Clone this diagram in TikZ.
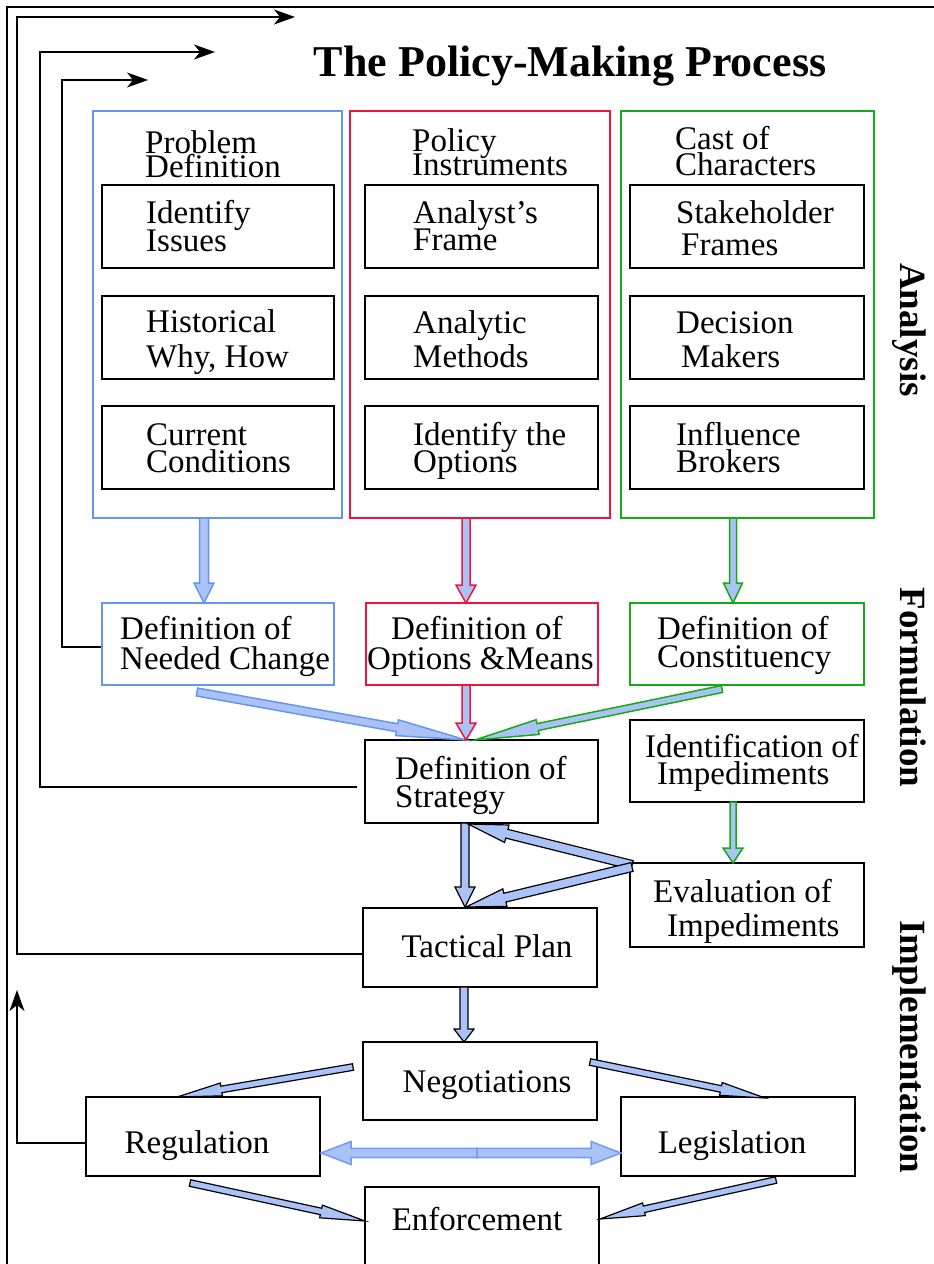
\documentclass[tikz,border=0pt]{standalone}
\usepackage{fontspec}
\setmainfont{Liberation Serif}
\usetikzlibrary{arrows.meta}
\definecolor{cblue}{RGB}{100,149,240}
\definecolor{cred}{RGB}{236,22,60}
\definecolor{cgreen}{RGB}{22,170,22}
\definecolor{afill}{RGB}{170,194,245}
\definecolor{dblue}{RGB}{110,156,246}
\lineskiplimit=-100pt
\newdimen\bAx \newdimen\bAy \newdimen\bBx \newdimen\bBy
\newcommand\blockarrow[7]{%
  \pgfextractx{\bAx}{\pgfpointanchor{#1}{center}}%
  \pgfextracty{\bAy}{\pgfpointanchor{#1}{center}}%
  \pgfextractx{\bBx}{\pgfpointanchor{#2}{center}}%
  \pgfextracty{\bBy}{\pgfpointanchor{#2}{center}}%
  \pgfmathsetmacro\bAng{atan2(\bBy-\bAy,\bBx-\bAx)}%
  \pgfmathsetmacro\bLen{veclen(\bBx-\bAx,\bBy-\bAy)}%
  \draw[draw=#3,fill=afill,line width=#7,line join=miter,
        shift={(\bAx,\bAy)},rotate=\bAng]
    (0pt,-#4) -- (\bLen pt-#6,-#4) -- (\bLen pt-#6,-#5) -- (\bLen pt,0pt)
    -- (\bLen pt-#6,#5) -- (\bLen pt-#6,#4) -- (0pt,#4) -- cycle;}
\begin{document}
\begin{tikzpicture}[x=1pt,y=-1pt,
  box/.style={draw=black,line width=1.6pt,inner sep=0pt},
  cont/.style={draw=#1,line width=1.6pt,inner sep=0pt},
  txt/.style={font=\fontsize{33}{#1}\selectfont,align=left,inner sep=0pt,anchor=base west},
  one/.style={font=\fontsize{33}{33}\selectfont,inner sep=0pt,anchor=base},
  side/.style={font=\fontsize{37}{37}\selectfont\bfseries,inner sep=0pt,anchor=base,rotate=-90},
  fb/.style={line width=1.5pt,-{Stealth[length=21pt,width=15pt,inset=6pt]}}]
\useasboundingbox (0,0) rectangle (934,1264);
\clip (0,0) rectangle (934,1264);

% frame
\coordinate (fr1) at (934,7);
\coordinate (fr2) at (7,7);
\coordinate (fr3) at (7,1270);
\draw[line width=1.5pt] (fr1) -- (fr2) -- (fr3);

% title and side labels
\node[anchor=base,inner sep=0pt,font=\fontsize{44}{44}\selectfont\bfseries] (title) at (570,76) {The Policy-Making Process};
\node[side] (lAn) at (900,330) {Analysis};
\node[side] (lFo) at (900,687.5) {Formulation};
\node[side] (lIm) at (900,1047) {Implementation};

% containers
\node[cont=cblue, minimum width=249, minimum height=407] (pdC) at (217.5,314.5) {};
\node[cont=cred, minimum width=260, minimum height=407] (piC) at (480,314.5) {};
\node[cont=cgreen, minimum width=253, minimum height=407] (ccC) at (747.5,314.5) {};
\node[txt=24] (pdH) at (145,177) {Problem\\Definition};
\node[txt=24] (piH) at (412,175) {Policy\\Instruments};
\node[txt=26] (ccH) at (675,175) {Cast of\\Characters};

% inner boxes, column 1
\node[box, minimum width=232, minimum height=83] (b11) at (218,226.5) {};
\node[box, minimum width=232, minimum height=83] (b12) at (218,337.5) {};
\node[box, minimum width=232, minimum height=83] (b13) at (218,447.5) {};
\node[txt=28] (t11) at (146,251) {Identify\\Issues};
\node[txt=35] (t12) at (146,367) {Historical\\Why, How};
\node[txt=27] (t13) at (146,472) {Current\\Conditions};
% column 2
\node[box, minimum width=233, minimum height=83] (b21) at (481.5,226.5) {};
\node[box, minimum width=233, minimum height=83] (b22) at (481.5,337.5) {};
\node[box, minimum width=233, minimum height=83] (b23) at (481.5,447.5) {};
\node[txt=27] (t21) at (413,250) {Analyst's\\Frame};
\node[txt=34] (t22) at (413,367) {Analytic\\Methods};
\node[txt=27] (t23) at (413,472) {Identify the\\Options};
% column 3
\node[box, minimum width=234, minimum height=83] (b31) at (747,226.5) {};
\node[box, minimum width=234, minimum height=83] (b32) at (747,337.5) {};
\node[box, minimum width=234, minimum height=83] (b33) at (747,447.5) {};
\node[txt=32] (t31) at (676,255) {Stakeholder\\\hspace*{5pt}Frames};
\node[txt=34] (t32) at (676,367) {Decision\\\hspace*{5pt}Makers};
\node[txt=27] (t33) at (676,472) {Influence\\Brokers};

% formulation
\node[cont=cblue, minimum width=232, minimum height=82] (ndc) at (218,644) {};
\node[txt=30] (ndcT) at (120,669) {Definition of\\Needed Change};
\node[cont=cred, minimum width=232, minimum height=82] (dom) at (482,644) {};
\node[txt=30] (domT) at (367,669) {\hspace*{24pt}Definition of\\Options \&Means};
\node[cont=cgreen, minimum width=234, minimum height=82] (doc) at (747,644) {};
\node[txt=28] (docT) at (657,667) {Definition of\\Constituency};
\node[box, minimum width=233, minimum height=83] (strat) at (481.5,781.5) {};
\node[txt=28] (stratT) at (395,807) {Definition of\\Strategy};
\node[box, minimum width=234, minimum height=82] (ident) at (747,761) {};
\node[txt=27] (identT) at (645,784) {Identification of\\\hspace*{12pt}Impediments};
\node[box, minimum width=234, minimum height=84] (eval) at (747,905) {};
\node[txt=34] (evalT) at (653,936) {Evaluation of\\\hspace*{14pt}Impediments};

% implementation
\node[box, minimum width=234, minimum height=79] (tact) at (480,947.5) {};
\node[one] (tactT) at (487,957) {Tactical Plan};
\node[box, minimum width=234, minimum height=78] (nego) at (480,1081) {};
\node[one] (negoT) at (487,1092) {Negotiations};
\node[box, minimum width=234, minimum height=79] (reg) at (203,1136.5) {};
\node[one] (regT) at (197,1153) {Regulation};
\node[box, minimum width=234, minimum height=79] (legis) at (738,1136.5) {};
\node[one] (legisT) at (732,1153) {Legislation};
\node[box, minimum width=234, minimum height=113] (enf) at (482,1243.5) {};
\node[one] (enfT) at (477,1230) {Enforcement};

% feedback lines
\coordinate (c1) at (62,80);  \coordinate (h1) at (148,80);
\coordinate (c2) at (40,52);  \coordinate (h2) at (215,52);
\coordinate (c3) at (17,17);  \coordinate (h3) at (295,17);
\coordinate (h4) at (17,990);
\draw[fb] ([yshift=-3pt]ndc.west) -| (c1) -- (h1);
\draw[fb] ([xshift=-7pt,yshift=-5.5pt]strat.west) -| (c2) -- (h2);
\draw[fb] ([yshift=-6.5pt]tact.west) -| (c3) -- (h3);
\draw[fb] ([yshift=-6.5pt]reg.west) -| (h4);

% block arrows
\coordinate (a1s) at (204,518);  \coordinate (a1e) at (204,603);
\coordinate (a2s) at (466,518);  \coordinate (a2e) at (466,603);
\coordinate (a3s) at (733,518);  \coordinate (a3e) at (733,603);
\coordinate (a4s) at (197,692);  \coordinate (a4e) at (466,740);
\coordinate (a5s) at (466,685);  \coordinate (a5e) at (466,740);
\coordinate (a6s) at (722,689);  \coordinate (a6e) at (475,740);
\coordinate (a7s) at (733,802);  \coordinate (a7e) at (733,863);
\coordinate (a8s) at (465,823);  \coordinate (a8e) at (465,907);
\coordinate (a9s) at (632,865);  \coordinate (a9e) at (468,824);
\coordinate (a10s) at (632,867); \coordinate (a10e) at (466,907);
\coordinate (a11s) at (464,987); \coordinate (a11e) at (464,1042);
\coordinate (a12s) at (353,1067); \coordinate (a12e) at (177,1097);
\coordinate (a13s) at (590,1062); \coordinate (a13e) at (765,1098);
\coordinate (a14s) at (190,1183); \coordinate (a14e) at (365,1221);
\coordinate (a15s) at (776,1180); \coordinate (a15e) at (600,1219);
\coordinate (a16s) at (477,1153); \coordinate (a16e) at (321,1153);
\coordinate (a17e) at (621,1153);

\blockarrow{a1s}{a1e}{cblue}{4.5pt}{10pt}{20pt}{1.5pt}
\blockarrow{a2s}{a2e}{cred}{4pt}{10pt}{18pt}{1.5pt}
\blockarrow{a3s}{a3e}{cgreen}{3.5pt}{9.5pt}{20pt}{1.5pt}
\blockarrow{a4s}{a4e}{cblue}{4pt}{8pt}{70pt}{1.5pt}
\blockarrow{a5s}{a5e}{cred}{4pt}{10pt}{17pt}{1.5pt}
\blockarrow{a6s}{a6e}{cgreen}{3.5pt}{7.5pt}{64pt}{1.5pt}
\blockarrow{a7s}{a7e}{cgreen}{3pt}{10pt}{15pt}{1.5pt}
\blockarrow{a8s}{a8e}{black}{4pt}{10pt}{20pt}{1.2pt}
\blockarrow{a9s}{a9e}{black}{4.5pt}{9pt}{40pt}{1.2pt}
\blockarrow{a10s}{a10e}{black}{4.5pt}{9pt}{40pt}{1.2pt}
\blockarrow{a11s}{a11e}{black}{4pt}{10pt}{13pt}{1.2pt}
\blockarrow{a12s}{a12e}{black}{3.3pt}{6.5pt}{45pt}{1.2pt}
\blockarrow{a13s}{a13e}{black}{3.3pt}{6.5pt}{45pt}{1.2pt}
\blockarrow{a14s}{a14e}{black}{3.3pt}{6.5pt}{45pt}{1.2pt}
\blockarrow{a15s}{a15e}{black}{3.3pt}{6.5pt}{45pt}{1.2pt}
\blockarrow{a16s}{a16e}{dblue}{4.7pt}{11.5pt}{30pt}{1.5pt}
\blockarrow{a16s}{a17e}{dblue}{4.7pt}{11.5pt}{30pt}{1.5pt}
\end{tikzpicture}
\end{document}
